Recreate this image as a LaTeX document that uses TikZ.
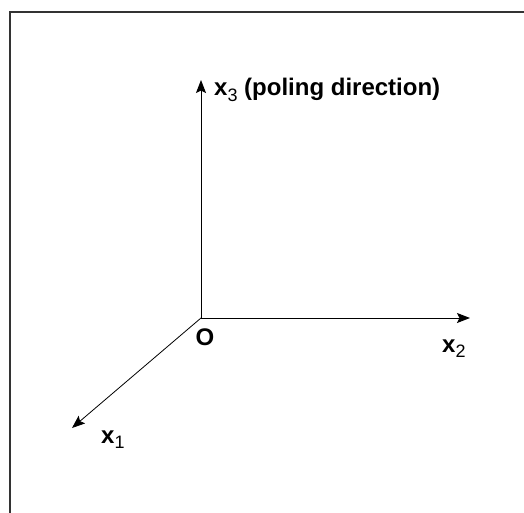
\documentclass[tikz,border=0pt]{standalone}
\usepackage{fontspec}
\setmainfont{Liberation Sans}
\usepackage{tikz}
\usetikzlibrary{arrows.meta}

\newcommand{\lowidx}[1]{\raisebox{-0.45ex}{\fontsize{18}{18}\selectfont\mdseries #1}}

\begin{document}
\begin{tikzpicture}[x=1pt, y=-1pt,
                axis/.style={line width=1pt, -{Stealth[length=13pt, width=10pt, inset=2.5pt]}},
                frame/.style={draw=black!80, line width=1.8pt},
                every node/.style={inner sep=0pt, font=\fontsize{24}{26}\selectfont\bfseries}
            ]
                \useasboundingbox (0,0) rectangle (524,513);
                \fill[white] (0,0) rectangle (524,513);
                \draw[frame] (530,12) -- (10,12) -- (10,520);
                \coordinate (origin) at (201,318);
                \coordinate (tip3) at (201,80);
                \coordinate (tip2) at (470,318);
                \coordinate (tip1) at (72,428);
                \draw[axis] (origin) -- (tip3);
                \draw[axis] (origin) -- (tip2);
                \draw[axis, line width=0.8pt] (origin) -- (tip1);
                \node[anchor=base west] (lab3) at (214,96) {x\lowidx{3} (poling direction)};
                \node[anchor=base] (labO) at (205,345) {O};
                \node[anchor=base west] (lab2) at (442,352) {x\lowidx{2}};
                \node[anchor=base west] (lab1) at (101,443) {x\lowidx{1}};
            \end{tikzpicture}
\end{document}
